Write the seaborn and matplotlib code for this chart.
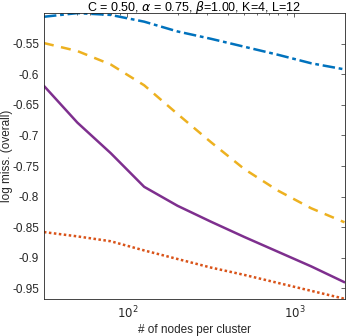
import numpy as np
import pandas as pd
import seaborn as sns
import matplotlib
matplotlib.use("Agg")
import matplotlib.pyplot as plt
from matplotlib.ticker import FixedLocator, FixedFormatter, LogLocator, NullFormatter

# values
nodes = [31.6, 50.1, 79.4, 125.9, 199.5, 316.2, 501.2, 794.3, 1258.9, 1995.3]
blue_dashdot = [-0.506, -0.500, -0.503, -0.514, -0.530, -0.542, -0.555, -0.568, -0.582, -0.592]
orange_dotted = [-0.858, -0.865, -0.873, -0.888, -0.902, -0.916, -0.928, -0.941, -0.954, -0.967]
yellow_dashed = [-0.549, -0.562, -0.584, -0.618, -0.665, -0.711, -0.755, -0.790, -0.819, -0.842]
purple_solid = [-0.619, -0.679, -0.729, -0.784, -0.815, -0.841, -0.866, -0.890, -0.914, -0.940]

y_ticks = [-0.95, -0.9, -0.85, -0.8, -0.75, -0.7, -0.65, -0.6, -0.55]
y_tick_labels = ["-0.95", "-0.9", "-0.85", "-0.8", "-0.75", "-0.7", "-0.65", "-0.6", "-0.55"]

sns.set_style("white")
plt.rcParams['font.family'] = ['Liberation Sans', 'DejaVu Sans']
plt.rcParams['mathtext.fontset'] = 'dejavusans'

fig = plt.figure(figsize=(3.46, 3.36), dpi=100)
ax = fig.add_axes([0.127, 0.109, 0.8687, 0.852])

series = [
    (blue_dashdot, '#0072BD', (0, (5, 1.5, 1.5, 1.5))),
    (orange_dotted, '#D95319', (0, (1, 1))),
    (yellow_dashed, '#EDB120', (0, (4, 3))),
    (purple_solid, '#7E2F8E', '-'),
]
for vals, col, ls in series:
    df = pd.DataFrame({'x': nodes, 'y': vals})
    sns.lineplot(data=df, x='x', y='y', color=col, linestyle=ls, linewidth=1.8, ax=ax)

ax.set_xscale('log')
ax.set_xlim(31.6, 1995.3)
ax.set_ylim(-0.968, -0.5)

ax.xaxis.set_major_locator(FixedLocator([100, 1000]))
ax.xaxis.set_major_formatter(FixedFormatter(['$10^2$', '$10^3$']))
ax.xaxis.set_minor_locator(LogLocator(base=10, subs=np.arange(2, 10)))
ax.xaxis.set_minor_formatter(NullFormatter())
ax.yaxis.set_major_locator(FixedLocator(y_ticks))
ax.yaxis.set_major_formatter(FixedFormatter(y_tick_labels))

ax.tick_params(which='both', direction='in', top=True, right=True, color='#262626',
               labelsize=8.5, labelcolor='#262626', width=0.5)
ax.tick_params(which='major', length=3)
ax.tick_params(which='minor', length=1.5)
for s in ax.spines.values():
    s.set_color('#262626')
    s.set_linewidth(0.6)

ax.set_xlabel('# of nodes per cluster', fontsize=8.5, color='#262626', labelpad=2)
ax.set_ylabel('log miss. (overall)', fontsize=8.5, color='#262626')
ax.yaxis.set_label_coords(-0.103, 0.5)
ax.set_title(r'C = 0.50, $\alpha$ = 0.75, $\beta$=1.00, K=4, L=12', fontsize=9, color='black', pad=1.5)

fig.savefig('out.png', dpi=100)
